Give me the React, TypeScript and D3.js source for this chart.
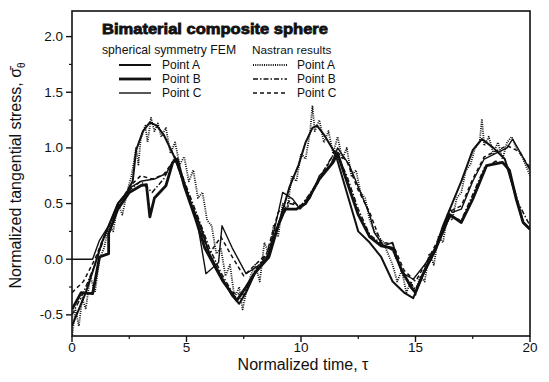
import * as d3 from "d3";

const W = 549;
const H = 382;

// x ticks and y ticks
const xTicks = [0, 5, 10, 15, 20];
const xMinor = [2.5, 7.5, 12.5, 17.5];
const yTicks = [-0.5, 0.0, 0.5, 1.0, 1.5, 2.0];
const yMinor = [-0.25, 0.25, 0.75, 1.25, 1.75];

// spherical symmetry FEM
const femA: [number, number][] = [
  [0, -0.6], [0.2, -0.5], [0.6, -0.3], [1.0, -0.05], [1.3, 0.15], [1.6, 0.3], [2.0, 0.5],
  [2.4, 0.6], [2.65, 0.7], [2.8, 0.98], [3.1, 1.15], [3.4, 1.23], [3.7, 1.2], [4.0, 1.12],
  [4.4, 0.95], [4.8, 0.75], [5.2, 0.5], [5.6, 0.3], [6.0, 0.05], [6.5, -0.15], [7.0, -0.33],
  [7.3, -0.4], [7.6, -0.3], [8.0, -0.12], [8.5, 0.0], [9.0, 0.3], [9.5, 0.65], [9.9, 0.85],
  [10.2, 1.05], [10.5, 1.18], [10.7, 1.2], [11.0, 1.12], [11.5, 0.95], [12.0, 0.6], [12.5, 0.25],
  [13.0, 0.15], [13.5, 0.02], [14.0, -0.2], [14.5, -0.3], [14.9, -0.35], [15.3, -0.15],
  [15.8, 0.05], [16.2, 0.3], [16.5, 0.45], [17.0, 0.7], [17.5, 0.98], [17.9, 1.08], [18.4, 1.0],
  [18.9, 0.9], [19.4, 0.55], [19.7, 0.33], [20.0, 0.27],
];
const femB: [number, number][] = [
  [0, -0.45], [0.4, -0.3], [0.9, -0.31], [1.2, 0.02], [1.6, 0.05], [1.6, 0.23], [2.0, 0.45],
  [2.5, 0.6], [3.0, 0.66], [3.25, 0.67], [3.4, 0.38], [3.6, 0.55], [4.1, 0.66], [4.4, 0.87],
  [4.6, 0.9], [4.9, 0.66], [5.4, 0.36], [5.8, 0.1], [6.2, -0.05], [6.6, -0.2], [7.2, -0.37],
  [7.6, -0.25], [8.0, -0.12], [8.6, 0.02], [9.0, 0.3], [9.3, 0.45], [9.8, 0.45], [10.2, 0.5],
  [10.8, 0.72], [11.4, 0.87], [11.6, 0.95], [12.0, 0.7], [12.5, 0.4], [13.0, 0.2], [13.5, 0.12],
  [14.0, 0.1], [14.4, -0.1], [14.8, -0.25], [15.0, -0.3], [15.4, -0.1], [15.9, 0.1], [16.5, 0.4],
  [17.0, 0.33], [17.5, 0.54], [18.1, 0.84], [18.8, 0.87], [19.1, 0.8], [19.4, 0.54],
  [19.7, 0.33], [20.0, 0.27],
];
const femC: [number, number][] = [
  [0, 0], [0.9, 0], [1.2, 0.17], [1.6, 0.3], [2.0, 0.5], [2.6, 0.65], [3.0, 0.7], [3.6, 0.72],
  [4.1, 0.77], [4.5, 0.9], [5.0, 0.6], [5.5, 0.3], [5.85, -0.13], [6.4, -0.03], [6.55, 0.3],
  [7.0, 0.1], [7.6, -0.13], [8.2, -0.05], [8.6, 0.05], [9.04, 0.45], [9.2, 0.6], [9.64, 0.54],
  [9.96, 0.45], [10.4, 0.55], [10.8, 0.75], [11.3, 0.85], [11.6, 1.0], [12.1, 0.85], [12.6, 0.6],
  [13.0, 0.4], [13.2, 0.24], [13.6, 0.12], [14.0, 0.15], [14.4, -0.12], [14.9, -0.18],
  [15.4, -0.05], [16.0, 0.15], [16.5, 0.45], [16.6, 0.42], [17.0, 0.45], [17.5, 0.7],
  [18.0, 0.9], [18.5, 0.95], [19.0, 1.0], [19.24, 1.08], [19.6, 0.95], [20.0, 0.8],
];

// Nastran results
const nasA: [number, number][] = [
  [0, -0.7], [0.15, -0.45], [0.3, -0.6], [0.45, -0.35], [0.6, -0.45], [0.8, -0.15], [1.0, -0.3],
  [1.2, 0.0], [1.4, 0.1], [1.6, 0.3], [1.8, 0.25], [2.0, 0.5], [2.2, 0.4], [2.4, 0.6], [2.6, 0.75],
  [2.8, 1.0], [2.9, 0.85], [3.0, 1.08], [3.2, 1.2], [3.3, 1.05], [3.45, 1.27], [3.6, 1.15],
  [3.75, 1.22], [3.9, 1.1], [4.1, 1.18], [4.3, 0.95], [4.5, 1.05], [4.7, 0.85], [4.9, 0.92],
  [5.1, 0.7], [5.3, 0.8], [5.5, 0.55], [5.7, 0.6], [5.9, 0.35], [6.1, 0.3], [6.3, 0.05],
  [6.5, 0.1], [6.7, -0.15], [6.9, -0.05], [7.1, -0.35], [7.3, -0.25], [7.45, -0.45], [7.6, -0.3],
  [7.8, -0.15], [8.0, -0.05], [8.2, -0.2], [8.4, 0.15], [8.6, 0.05], [8.8, 0.3], [9.0, 0.2],
  [9.2, 0.5], [9.4, 0.45], [9.6, 0.75], [9.8, 0.7], [10.0, 0.95], [10.2, 0.9], [10.4, 1.15],
  [10.5, 1.38], [10.6, 1.15], [10.8, 1.25], [11.0, 1.05], [11.2, 1.15], [11.4, 0.95], [11.6, 1.1],
  [11.8, 0.9], [12.0, 1.0], [12.2, 0.75], [12.4, 0.8], [12.6, 0.6], [12.8, 0.55], [13.0, 0.35],
  [13.2, 0.25], [13.4, 0.2], [13.6, 0.15], [13.8, 0.05], [14.0, -0.05], [14.2, -0.2], [14.4, -0.1],
  [14.6, -0.3], [14.8, -0.2], [15.0, -0.32], [15.2, -0.15], [15.4, -0.2], [15.6, 0.05],
  [15.8, -0.05], [16.0, 0.2], [16.2, 0.15], [16.4, 0.4], [16.6, 0.35], [16.8, 0.55], [17.0, 0.6],
  [17.2, 0.8], [17.4, 0.85], [17.6, 1.0], [17.8, 1.05], [17.9, 1.26], [18.0, 1.02], [18.2, 1.1],
  [18.4, 0.95], [18.6, 1.05], [18.8, 0.9], [19.0, 1.05], [19.2, 1.1], [19.4, 1.0], [19.6, 0.95],
  [19.8, 0.85], [20.0, 0.75],
];
const nasB: [number, number][] = [
  [0, -0.5], [0.5, -0.3], [1.0, -0.05], [1.5, 0.25], [2.0, 0.48], [2.5, 0.62], [3.0, 0.7],
  [3.5, 0.6], [4.0, 0.72], [4.5, 0.92], [5.0, 0.65], [5.5, 0.38], [6.0, 0.1], [6.5, -0.12],
  [7.0, -0.3], [7.5, -0.32], [8.0, -0.1], [8.5, 0.05], [9.0, 0.32], [9.5, 0.5], [10.0, 0.48],
  [10.5, 0.62], [11.0, 0.8], [11.5, 0.97], [12.0, 0.75], [12.5, 0.45], [13.0, 0.22], [13.5, 0.14],
  [14.0, 0.08], [14.5, -0.15], [15.0, -0.27], [15.5, -0.05], [16.0, 0.15], [16.5, 0.38],
  [17.0, 0.35], [17.5, 0.58], [18.0, 0.82], [18.5, 0.88], [19.0, 0.85], [19.5, 0.5], [20.0, 0.3],
];
const nasC: [number, number][] = [
  [0, -0.3], [0.5, -0.2], [1.0, 0.0], [1.5, 0.25], [2.0, 0.47], [2.5, 0.65], [3.0, 0.75],
  [3.5, 0.72], [4.0, 0.76], [4.5, 0.9], [5.0, 0.62], [5.5, 0.32], [6.0, 0.05], [6.5, 0.2],
  [7.0, 0.02], [7.5, -0.15], [8.0, -0.05], [8.5, 0.05], [9.0, 0.42], [9.5, 0.52], [10.0, 0.48],
  [10.5, 0.6], [11.0, 0.78], [11.5, 0.98], [12.0, 0.88], [12.5, 0.62], [13.0, 0.42], [13.5, 0.15],
  [14.0, 0.14], [14.5, -0.1], [15.0, -0.2], [15.5, -0.02], [16.0, 0.18], [16.5, 0.43],
  [17.0, 0.48], [17.5, 0.72], [18.0, 0.92], [18.5, 0.97], [19.0, 1.02], [19.5, 0.97], [20.0, 0.82],
];

const legendRows = ["Point A", "Point B", "Point C"];

const x = d3.scaleLinear().domain([0, 20]).range([72, 530]);
const y = d3.scaleLinear().domain([-0.69, 2.23]).range([336, 11]);

const line = d3
  .line<[number, number]>()
  .x((d) => x(d[0]))
  .y((d) => y(d[1]));

const femStyles = [
  { data: femA, width: 2, dash: "none" },
  { data: femB, width: 2.8, dash: "none" },
  { data: femC, width: 1.4, dash: "none" },
];
const nasStyles = [
  { data: nasA, width: 1.8, dash: "1 1.2" },
  { data: nasB, width: 1.5, dash: "5 2 1.5 2" },
  { data: nasC, width: 1.5, dash: "4 3" },
];

export default function App() {
  const font = "Liberation Sans, Arial, sans-serif";
  const [x0, x1] = x.range();
  const [yb, yt] = y.range();
  return (
    <svg
      width={W}
      height={H}
      style={{ position: "absolute", left: 0, top: 0, background: "#fff" }}
      fontFamily={font}
    >
      <rect x={0} y={0} width={W} height={H} fill="#fff" />
      <defs>
        <clipPath id="plot">
          <rect x={x0} y={yt} width={x1 - x0} height={yb - yt} />
        </clipPath>
      </defs>

      <g clipPath="url(#plot)" fill="none" stroke="#111" strokeLinejoin="round">
        {femStyles.map((s, i) => (
          <path key={"f" + i} d={line(s.data) || ""} strokeWidth={s.width} strokeDasharray={s.dash} />
        ))}
        {nasStyles.map((s, i) => (
          <path key={"n" + i} d={line(s.data) || ""} strokeWidth={s.width} strokeDasharray={s.dash} />
        ))}
      </g>

      {/* frame */}
      <rect x={x0} y={yt} width={x1 - x0} height={yb - yt} fill="none" stroke="#111" strokeWidth={1.6} />

      {/* x axis ticks */}
      {xTicks.map((t) => (
        <g key={"xt" + t}>
          <line x1={x(t)} x2={x(t)} y1={yb} y2={yb + 6} stroke="#111" strokeWidth={1.4} />
          <text x={x(t)} y={yb + 16} fontSize={13.5} textAnchor="middle" fill="#111">
            {t}
          </text>
        </g>
      ))}
      {xMinor.map((t) => (
        <line key={"xm" + t} x1={x(t)} x2={x(t)} y1={yb} y2={yb + 3} stroke="#111" strokeWidth={1.2} />
      ))}

      {/* y axis ticks */}
      {yTicks.map((t) => (
        <g key={"yt" + t}>
          <line x1={x0 - 6} x2={x0} y1={y(t)} y2={y(t)} stroke="#111" strokeWidth={1.4} />
          <text x={x0 - 9} y={y(t) + 4.5} fontSize={13.5} textAnchor="end" fill="#111">
            {t.toFixed(1)}
          </text>
        </g>
      ))}
      {yMinor.map((t) => (
        <line key={"ym" + t} x1={x0 - 3} x2={x0} y1={y(t)} y2={y(t)} stroke="#111" strokeWidth={1.2} />
      ))}

      {/* axis titles */}
      <text x={303} y={370} fontSize={16} textAnchor="middle" fill="#111">
        Normalized time, τ
      </text>
      <text
        transform={`translate(21,${(yt + yb) / 2 + 2}) rotate(-90)`}
        fontSize={16}
        textAnchor="middle"
        fill="#111"
      >
        Normalized tangential stress, σ̄
        <tspan fontSize={10} dy={4}>θ</tspan>
      </text>

      {/* legend */}
      <text
        x={102}
        y={34}
        fontSize={15}
        fontWeight="bold"
        fill="#111"
        stroke="#111"
        strokeWidth={0.8}
        textLength={226}
        lengthAdjust="spacingAndGlyphs"
      >
        Bimaterial composite sphere
      </text>
      <text x={102} y={54} fontSize={12.2} fill="#111">
        spherical symmetry FEM
      </text>
      <text x={252} y={54} fontSize={11.8} fill="#111">
        Nastran results
      </text>
      {legendRows.map((label, i) => {
        const cy = 65 + i * 14;
        return (
          <g key={label}>
            <line
              x1={119}
              x2={151}
              y1={cy}
              y2={cy}
              stroke="#111"
              strokeWidth={femStyles[i].width}
              strokeDasharray={femStyles[i].dash}
            />
            <text x={162} y={cy + 4} fontSize={12} fill="#111">
              {label}
            </text>
            <line
              x1={253}
              x2={287}
              y1={cy}
              y2={cy}
              stroke="#111"
              strokeWidth={nasStyles[i].width}
              strokeDasharray={nasStyles[i].dash}
            />
            <text x={297} y={cy + 4} fontSize={12} fill="#111">
              {label}
            </text>
          </g>
        );
      })}
    </svg>
  );
}
